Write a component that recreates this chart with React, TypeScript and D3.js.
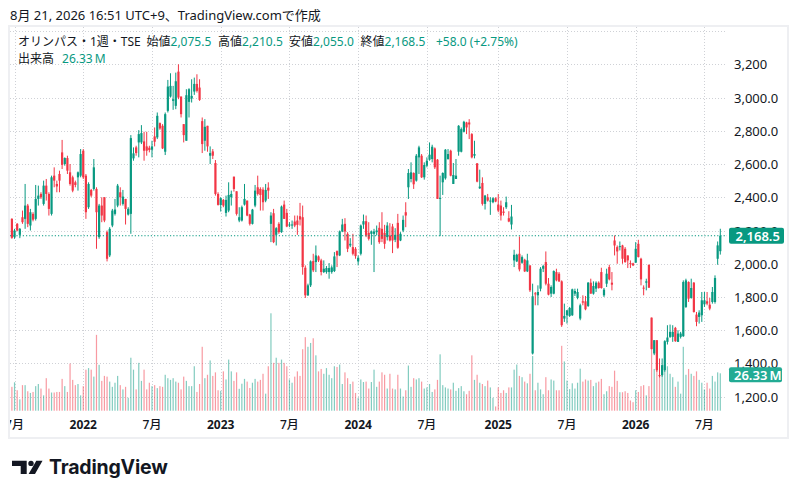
import * as d3 from "d3";

// weekly candles, Olympus (TSE), from the week of 2021-06-28
const firstWeek = new Date(2021, 5, 28);

const opens = [
  2270, 2160, 2240, 2174, 2280, 2270, 2350, 2230, 2300, 2270, 2390, 2420, 2360, 2470, 2420, 2300, 2530, 2480, 2540, 2670,
  2600, 2636, 2550, 2520, 2490, 2520, 2530, 2680, 2530, 2340, 2444, 2450, 2450, 2160, 2350, 2400, 2190, 2050, 2230, 2300,
  2350, 2430, 2360, 2390, 2296, 2300, 2634, 2700, 2730, 2730, 2736, 2706, 2698, 2686, 2766, 2760, 2846, 2830, 2674, 2920,
  3006, 2980, 2950, 3156, 3006, 2840, 2740, 2974, 2994, 3036, 3082, 3060, 2858, 2740, 2830, 2650, 2676, 2606, 2420, 2354,
  2384, 2306, 2320, 2400, 2524, 2436, 2260, 2260, 2356, 2380, 2296, 2240, 2350, 2460, 2450, 2446, 2380, 2458, 2240, 2304,
  2174, 2240, 2190, 2356, 2306, 2230, 2232, 2254, 2260, 2286, 2280, 1976, 1810, 1870, 2016, 2010, 2044, 2020, 1950, 1950,
  1950, 1950, 1956, 2076, 2050, 2194, 2240, 2180, 2110, 2100, 2090, 2014, 2060, 2236, 2256, 2186, 2180, 2180, 2190, 2216,
  2210, 2186, 2160, 2170, 2224, 2144, 2246, 2140, 2200, 2310, 2460, 2510, 2546, 2500, 2640, 2650, 2520, 2590, 2626, 2630,
  2694, 2626, 2390, 2490, 2514, 2630, 2680, 2480, 2510, 2674, 2674, 2794, 2850, 2850, 2780, 2650, 2604, 2454, 2486, 2360,
  2400, 2374, 2370, 2394, 2356, 2350, 2314, 2340, 2274, 2236, 2020, 2014, 2060, 2006, 2024, 1954, 1990, 1460, 1822, 1810,
  1850, 1970, 2010, 1880, 1820, 1820, 1950, 1940, 1894, 1670, 1690, 1686, 1690, 1820, 1794, 1670, 1774, 1774, 1746, 1886,
  1820, 1850, 1886, 1950, 1810, 1880, 1980, 1886, 2140, 2100, 2100, 2110, 2090, 2050, 2004, 2002, 2006, 2120, 2030, 1856,
  1886, 1994, 1676, 1460, 1540, 1330, 1330, 1360, 1530, 1560, 1560, 1614, 1530, 1560, 1564, 1740, 1890, 1794, 1886, 1694,
  1680, 1690, 1756, 1774, 1754, 1770, 1770, 2030, 2075.5,
];
const highs = [
  2274, 2210, 2245, 2215, 2320, 2480, 2360, 2330, 2310, 2474, 2470, 2430, 2500, 2510, 2430, 2530, 2580, 2500, 2560, 2745,
  2640, 2650, 2600, 2530, 2500, 2555, 2690, 2690, 2540, 2490, 2450, 2630, 2460, 2360, 2400, 2400, 2200, 2220, 2330, 2390,
  2480, 2460, 2444, 2390, 2340, 2774, 2700, 2710, 2804, 2834, 2794, 2794, 2710, 2740, 2820, 2910, 2850, 2840, 2910, 3106,
  3146, 3070, 3150, 3200, 3006, 2840, 3050, 3056, 3110, 3120, 3140, 3110, 2880, 2870, 2830, 2706, 2690, 2624, 2430, 2400,
  2390, 2410, 2490, 2440, 2524, 2436, 2340, 2350, 2480, 2380, 2300, 2330, 2474, 2530, 2460, 2460, 2480, 2490, 2310, 2330,
  2220, 2250, 2350, 2380, 2330, 2250, 2260, 2290, 2290, 2366, 2350, 1990, 1880, 2020, 2060, 2110, 2050, 2030, 2020, 1986,
  2004, 1990, 2070, 2080, 2200, 2270, 2274, 2190, 2154, 2180, 2100, 2050, 2236, 2296, 2290, 2250, 2200, 2210, 2230, 2250,
  2310, 2234, 2250, 2244, 2240, 2214, 2300, 2190, 2290, 2370, 2570, 2610, 2550, 2660, 2710, 2660, 2610, 2640, 2730, 2716,
  2700, 2630, 2530, 2550, 2690, 2690, 2686, 2606, 2630, 2834, 2820, 2860, 2854, 2870, 2786, 2740, 2606, 2566, 2520, 2414,
  2420, 2400, 2400, 2400, 2420, 2380, 2340, 2404, 2316, 2354, 2084, 2060, 2164, 2050, 2030, 2060, 1990, 1880, 1830, 1870,
  1980, 1994, 2074, 1914, 1870, 1960, 1970, 1950, 1900, 1760, 1720, 1740, 1850, 1850, 1850, 1760, 1810, 1806, 1890, 1910,
  1894, 1894, 1894, 1976, 1854, 1970, 1994, 1950, 2170, 2110, 2134, 2114, 2100, 2050, 2020, 2006, 2130, 2144, 2036, 1870,
  1910, 1994, 1676, 1540, 1540, 1430, 1430, 1540, 1630, 1634, 1630, 1620, 1600, 1590, 1900, 1910, 1894, 1910, 1890, 1710,
  1720, 1830, 1830, 1830, 1794, 1860, 1930, 2134, 2210.5,
];
const lows = [
  2150, 2150, 2195, 2154, 2240, 2210, 2220, 2200, 2255, 2260, 2350, 2390, 2350, 2380, 2290, 2290, 2460, 2430, 2430, 2570,
  2590, 2540, 2470, 2430, 2460, 2440, 2520, 2510, 2270, 2330, 2400, 2440, 2090, 2150, 2250, 2250, 2014, 2040, 2220, 2290,
  2340, 2350, 2350, 2236, 2290, 2180, 2620, 2650, 2640, 2720, 2620, 2650, 2670, 2640, 2706, 2750, 2806, 2690, 2654, 2910,
  3000, 2926, 2930, 2990, 2880, 2730, 2740, 2880, 2970, 3016, 3030, 2980, 2666, 2680, 2674, 2600, 2630, 2410, 2350, 2314,
  2340, 2284, 2310, 2350, 2434, 2290, 2250, 2254, 2350, 2286, 2230, 2236, 2340, 2410, 2320, 2320, 2370, 2390, 2130, 2124,
  2110, 2180, 2186, 2270, 2220, 2220, 2210, 2220, 2174, 2230, 1934, 1794, 1806, 1860, 1950, 1950, 2010, 1930, 1944, 1940,
  1910, 1940, 1950, 1980, 2046, 2190, 2140, 2070, 2100, 2050, 2030, 1990, 2050, 2210, 2160, 2140, 2114, 1950, 2170, 2120,
  2130, 2090, 2140, 2134, 2064, 2130, 2090, 2136, 2190, 2220, 2390, 2490, 2450, 2494, 2540, 2516, 2506, 2580, 2620, 2610,
  2570, 2390, 2166, 2414, 2506, 2626, 2526, 2480, 2510, 2650, 2670, 2790, 2780, 2750, 2634, 2634, 2490, 2450, 2350, 2326,
  2374, 2294, 2364, 2370, 2310, 2260, 2290, 2330, 2250, 2206, 1980, 2010, 1954, 2000, 1950, 1950, 1830, 1454, 1750, 1750,
  1834, 1950, 1870, 1810, 1800, 1816, 1894, 1890, 1620, 1650, 1640, 1680, 1686, 1806, 1786, 1660, 1750, 1720, 1740, 1820,
  1814, 1830, 1850, 1850, 1800, 1860, 1900, 1840, 2050, 2000, 2080, 2000, 2006, 1974, 1974, 1986, 2006, 2038, 1870, 1810,
  1840, 1854, 1486, 1450, 1350, 1316, 1320, 1350, 1514, 1554, 1530, 1530, 1530, 1550, 1560, 1734, 1770, 1790, 1706, 1624,
  1640, 1650, 1740, 1750, 1720, 1760, 1760, 1994, 2055,
];
const closes = [
  2156, 2200, 2200, 2210, 2250, 2350, 2240, 2310, 2265, 2390, 2410, 2400, 2470, 2420, 2330, 2520, 2500, 2465, 2500, 2595,
  2636, 2560, 2480, 2440, 2474, 2550, 2660, 2520, 2310, 2480, 2410, 2580, 2310, 2350, 2290, 2260, 2030, 2210, 2320, 2326,
  2470, 2400, 2404, 2330, 2330, 2756, 2664, 2666, 2780, 2786, 2680, 2680, 2684, 2706, 2734, 2890, 2814, 2694, 2900, 3066,
  3070, 2990, 3098, 3000, 2900, 2774, 3014, 3050, 3010, 3082, 3040, 2986, 2720, 2824, 2706, 2666, 2650, 2420, 2354, 2394,
  2350, 2384, 2414, 2420, 2450, 2300, 2280, 2340, 2390, 2290, 2240, 2326, 2440, 2420, 2414, 2370, 2444, 2440, 2290, 2130,
  2214, 2190, 2344, 2270, 2224, 2236, 2236, 2230, 2234, 2266, 1980, 1810, 1870, 2014, 1960, 2050, 2020, 1950, 1970, 1974,
  1974, 1978, 2044, 2050, 2194, 2236, 2194, 2090, 2120, 2060, 2046, 2036, 2230, 2256, 2170, 2150, 2194, 2194, 2200, 2130,
  2150, 2120, 2230, 2140, 2140, 2174, 2096, 2180, 2264, 2290, 2546, 2550, 2478, 2650, 2700, 2520, 2594, 2620, 2656, 2704,
  2580, 2390, 2396, 2546, 2686, 2660, 2530, 2534, 2530, 2830, 2810, 2854, 2820, 2838, 2640, 2660, 2494, 2464, 2360, 2410,
  2380, 2380, 2394, 2374, 2320, 2290, 2306, 2370, 2254, 2284, 2054, 2054, 1966, 2040, 1954, 2020, 1840, 1804, 1816, 1830,
  1970, 1986, 1880, 1814, 1860, 1956, 1900, 1894, 1630, 1686, 1720, 1734, 1846, 1836, 1830, 1750, 1766, 1726, 1886, 1820,
  1866, 1886, 1854, 1854, 1844, 1940, 1906, 1874, 2110, 2074, 2106, 2030, 2010, 2020, 2000, 1990, 2090, 2040, 1906, 1854,
  1894, 1856, 1486, 1540, 1360, 1326, 1390, 1534, 1556, 1590, 1590, 1534, 1580, 1580, 1890, 1900, 1790, 1854, 1710, 1650,
  1706, 1780, 1780, 1760, 1730, 1830, 1914, 2110.5, 2168.5,
];
// weekly volume, millions of shares
const volumes = [
  16.8, 20, 14.4, 8, 18, 18, 13.7, 12.5, 13.2, 17.3, 18.8, 15.6, 10.8, 22.9, 15.6, 12.8, 12.8, 13.2, 13.2, 22.4,
  17.3, 13.2, 33.2, 21.7, 18, 18.8, 10.8, 17.3, 28.9, 30, 28.9, 24, 53.4, 32.3, 21, 24.5, 24, 20.5, 16.8, 19.7,
  24.5, 18, 15, 16.8, 9.1, 37.3, 28.9, 15, 33.7, 21, 28.9, 15, 19.7, 17.3, 18, 15.9, 17.3, 16.8, 25.3, 22.9,
  21.7, 22.9, 20.5, 19.7, 15, 24, 21, 17.3, 17.3, 31.3, 13.2, 18.8, 45, 22.9, 25.3, 35.4, 24.5, 27, 14.4, 14,
  27.7, 22, 36, 27.7, 21, 27, 15.4, 19, 22.4, 20.5, 16, 19.7, 22.4, 20.5, 21.7, 26, 12, 31.3, 68.6, 33.7,
  37.3, 33.7, 36, 33.7, 31.3, 22, 19.7, 24, 27.7, 24.5, 43.3, 51.8, 45, 47.7, 51, 39, 27.7, 29.4, 26, 30,
  25.3, 22.9, 31.3, 30.8, 32.5, 18.8, 27, 22.9, 18.8, 20.5, 12.5, 9.1, 22, 20.2, 20.5, 15.6, 20.2, 28.9, 16.8, 20.5,
  27, 25.3, 15.6, 26, 15.6, 15, 25.3, 15.6, 10, 14.4, 31.8, 16.8, 22.9, 22, 22.9, 20.5, 15.6, 16.4, 18.8, 13.2,
  15, 21.7, 39.7, 18, 16.4, 15.6, 15, 19.7, 14, 15.9, 17.3, 13.7, 11.6, 14, 39, 21.7, 25.3, 19.7, 18.8, 17.3,
  21.2, 16.4, 9.1, 3, 16.4, 12.5, 14.4, 12.5, 16.4, 16.4, 28.9, 32.5, 24.5, 23.6, 20.5, 19.3, 26, 38.5, 14.4, 19.7,
  15, 11.6, 23.6, 14.4, 22, 21.2, 14.4, 14.4, 45.7, 34.7, 21.2, 15.2, 19.3, 15.6, 19.7, 29.6, 20.5, 22, 21.2, 21.7,
  17.3, 19.7, 20.5, 22.4, 11.6, 13.7, 17.3, 16.8, 28.2, 21, 13, 13, 13.7, 12.5, 7.2, 6, 14.4, 13.2, 17.3, 18,
  10.8, 17.3, 47, 29.4, 28.9, 24.5, 31.3, 30, 31.3, 26, 23.6, 16.8, 20.5, 12, 45, 25.3, 29.4, 26, 24.5, 27.7,
  21.7, 19.7, 15, 19.7, 15.6, 24.5, 20.5, 27, 26.33,
];

const priceTicks = [3400, 3200, 3000, 2800, 2600, 2400, 2200, 2000, 1800, 1600, 1400, 1200];
const priceTickLabels = ["", "3,200", "3,000.0", "2,800.0", "2,600.0", "2,400.0", "2,200.0", "2,000.0", "1,800.0", "1,600.0", "1,400.0", "1,200.0"];
const timeTicks = [
  new Date(2021, 6, 5), new Date(2022, 0, 3), new Date(2022, 6, 4), new Date(2023, 0, 2),
  new Date(2023, 6, 3), new Date(2024, 0, 1), new Date(2024, 6, 1), new Date(2025, 0, 6),
  new Date(2025, 6, 7), new Date(2026, 0, 5), new Date(2026, 6, 6),
];
const timeTickLabels = ["7月", "2022", "7月", "2023", "7月", "2024", "7月", "2025", "7月", "2026", "7月"];

const UP = "#089981";
const DOWN = "#F23645";
const TEXT = "#131722";
const FONT = '"Noto Sans", "Noto Sans CJK JP", sans-serif';

const App = () => {
  const W = 798;
  const H = 499;
  const left = 10;
  const right = 727;
  const top = 27;
  const bottom = 438;

  const dates = opens.map((_, i) => d3.timeDay.offset(firstWeek, i * 7));
  const x = d3
    .scaleTime()
    .domain([dates[0], dates[dates.length - 1]])
    .range([11.9, 720.3]);
  const y = d3.scaleLinear().domain([1200, 3200]).range([396.7, 64.3]);
  const yVol = d3.scaleLinear().domain([0, 100]).range([410.7, 410.7 - 142]);

  const last = closes.length - 1;
  const lastPrice = closes[last];
  const lastVol = volumes[last];
  const change = closes[last] - closes[last - 1];
  const fmt = d3.format(",.1f");

  return (
    <svg
      width={W}
      height={H}
      style={{ position: "absolute", left: 0, top: 0, background: "#fff" }}
      fontFamily={FONT}
    >
      <defs>
        <clipPath id="plot">
          <rect x={left} y={top} width={right - left} height={bottom - top} />
        </clipPath>
      </defs>
      <rect width={W} height={H} fill="#fff" />

      {/* header */}
      <text x={10} y={19.5} fontSize={13} fill={TEXT}>
        8月 21, 2026 16:51 UTC+9、TradingView.comで作成
      </text>

      {/* frame */}
      <rect x={9} y={26} width={779} height={412} fill="none" stroke="#eeeff2" strokeWidth={2} />

      {/* grid */}
      <g stroke="#cfd1d6" strokeWidth={1} strokeDasharray="1,2">
        {priceTicks.map((p) => (
          <line key={p} x1={left} x2={right} y1={Math.round(y(p)) + 0.5} y2={Math.round(y(p)) + 0.5} />
        ))}
        {timeTicks.map((t, i) => (
          <line key={i} x1={Math.round(x(t)) + 0.5} x2={Math.round(x(t)) + 0.5} y1={top} y2={411} />
        ))}
      </g>

      <g clipPath="url(#plot)">
        {/* volume */}
        {volumes.map((v, i) => (
          <rect
            key={i}
            x={x(dates[i]) - 0.6}
            y={yVol(v)}
            width={1.2}
            height={yVol(0) - yVol(v)}
            fill={closes[i] >= opens[i] ? UP : DOWN}
            fillOpacity={0.5}
          />
        ))}

        {/* candles */}
        {opens.map((o, i) => {
          const c = closes[i];
          const col = c >= o ? UP : DOWN;
          const cx = x(dates[i]);
          const yt = y(Math.max(o, c));
          const yb = y(Math.min(o, c));
          return (
            <g key={i}>
              <line x1={cx} x2={cx} y1={y(highs[i])} y2={y(lows[i])} stroke={col} strokeWidth={1} />
              <rect x={cx - 1.1} y={yt} width={2.2} height={Math.max(1, yb - yt)} fill={col} />
            </g>
          );
        })}

        {/* last price line */}
        <line
          x1={left}
          x2={right}
          y1={y(lastPrice)}
          y2={y(lastPrice)}
          stroke={UP}
          strokeWidth={1}
          strokeDasharray="1.2,2"
        />
      </g>

      {/* price axis */}
      <g fontSize={13} fill={TEXT}>
        {priceTicks.map((p, i) =>
          priceTickLabels[i] ? (
            <text key={p} x={734} y={y(p)} dominantBaseline="central">
              {priceTickLabels[i]}
            </text>
          ) : null
        )}
      </g>

      {/* time axis */}
      <g clipPath="url(#plot)" fontSize={12} fill={TEXT} textAnchor="middle">
        {timeTicks.map((t, i) => (
          <text
            key={i}
            x={x(t)}
            y={429}
            fontWeight={timeTickLabels[i].endsWith("月") ? 500 : 700}
          >
            {timeTickLabels[i]}
          </text>
        ))}
      </g>

      {/* last price label */}
      <rect x={729} y={y(lastPrice) - 8} width={55} height={16} rx={2} fill={UP} />
      <text x={735.5} y={y(lastPrice)} dominantBaseline="central" fontSize={13} fontWeight={600} fill="#fff">
        {fmt(lastPrice)}
      </text>

      {/* last volume label */}
      <rect x={729} y={yVol(lastVol) - 6} width={53} height={15} rx={2} fill="#22ab94" />
      <text x={734} y={yVol(lastVol) + 1.5} dominantBaseline="central" fontSize={13} fontWeight={600} fill="#fff">
        {`${lastVol.toFixed(2)}\u2009M`}
      </text>

      {/* legend */}
      <g fontSize={12} fill={TEXT}>
        <text x={18} y={46}>オリンパス・1週・TSE</text>
        <text x={146.5} y={46}>
          始値<tspan fill={UP}>{fmt(opens[last])}</tspan>
        </text>
        <text x={218} y={46}>
          高値<tspan fill={UP}>{fmt(highs[last])}</tspan>
        </text>
        <text x={289} y={46}>
          安値<tspan fill={UP}>{fmt(lows[last])}</tspan>
        </text>
        <text x={360.5} y={46}>
          終値<tspan fill={UP}>{fmt(closes[last])}</tspan>
        </text>
        <text x={436} y={46} fill={UP}>
          {`+${change.toFixed(1)} (+${((change / closes[last - 1]) * 100).toFixed(2)}%)`}
        </text>
        <text x={18} y={63}>
          出来高<tspan dx={8} fill={UP}>{`${lastVol.toFixed(2)}\u2009M`}</tspan>
        </text>
      </g>

      {/* logo */}
      <g fill={TEXT}>
        <path d="M12,460.7 H26.7 V474 H20.7 V466 H12 Z" />
        <circle cx={31} cy={463.4} r={2.7} />
        <path d="M36.3,460.7 H42.5 L35,474 H28.6 Z" />
        <text x={49} y={474} fontSize={19.5} fontWeight={700} fontFamily='Inter, "Noto Sans", sans-serif' letterSpacing={-0.2}>
          TradingView
        </text>
      </g>
    </svg>
  );
};

export default App;
